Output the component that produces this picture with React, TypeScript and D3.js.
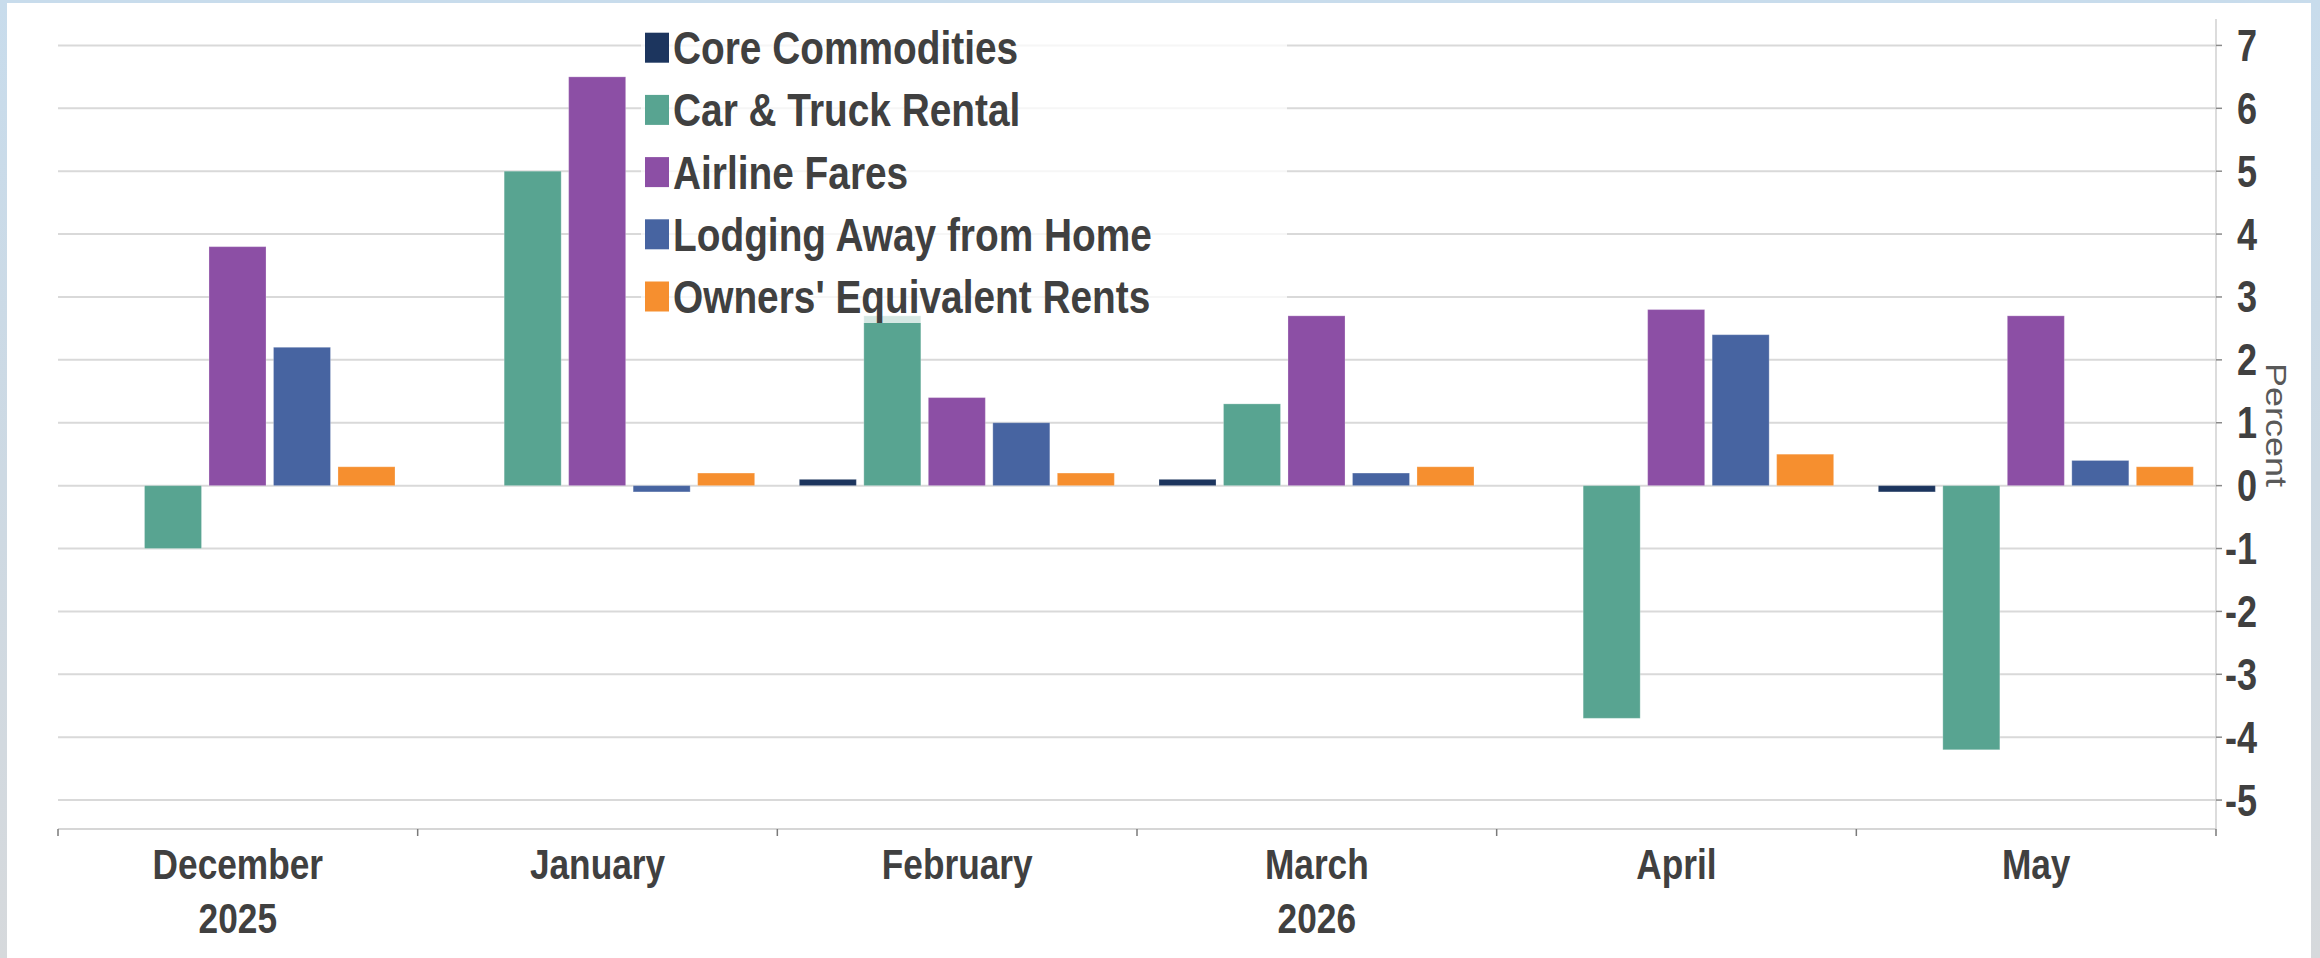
import React from "react";
import * as d3 from "d3";

const catLine1 = ["December", "January", "February", "March", "April", "May"];
const catLine2 = ["2025", "", "", "2026", "", ""];

const seriesNames = [
  "Core Commodities",
  "Car & Truck Rental",
  "Airline Fares",
  "Lodging Away from Home",
  "Owners' Equivalent Rents",
];
const seriesColors = ["#1c355e", "#58a491", "#8c4fa5", "#4764a1", "#f68f2f"];

const coreCommodities = [0, 0, 0.1, 0.1, 0, -0.1];
const carTruckRental = [-1.0, 5.0, 2.7, 1.3, -3.7, -4.2];
const airlineFares = [3.8, 6.5, 1.4, 2.7, 2.8, 2.7];
const lodgingAway = [2.2, -0.1, 1.0, 0.2, 2.4, 0.4];
const ownersEquivRents = [0.3, 0.2, 0.2, 0.3, 0.5, 0.3];

const yTicks = [-5, -4, -3, -2, -1, 0, 1, 2, 3, 4, 5, 6, 7];

const W = 2320;
const H = 958;
const FONT = "'Liberation Sans', Arial, Helvetica, sans-serif";
const SX = 0.82;
const SX_LEG = 0.835;
const TXT = "#404040";

export default function App() {
  const seriesValues = [coreCommodities, carTruckRental, airlineFares, lodgingAway, ownersEquivRents];
  const cats = catLine1.map((c, i) => c + "|" + i);

  const plotLeft = 58;
  const plotRight = 2216;
  const y = d3.scaleLinear().domain([-5.46, 7.42]).range([829, 19]);
  const x0 = d3.scaleBand<string>().domain(cats).range([plotLeft, plotRight]).paddingInner(0).paddingOuter(0);
  const x1 = d3
    .scaleBand<string>()
    .domain(seriesNames)
    .range([22, 337])
    .paddingInner(0.116)
    .paddingOuter(0);

  const legendX = 645;
  const legendY0 = 47.7;
  const legendStep = 62.2;

  return (
    <svg
      width={W}
      height={H}
      style={{ position: "absolute", left: 0, top: 0, display: "block" }}
      fontFamily={FONT}
    >
      <defs>
        <linearGradient id="bgGrad" x1="0" y1="0" x2="0" y2="1">
          <stop offset="0" stopColor="#c8dcec" />
          <stop offset="0.5" stopColor="#cdd9e3" />
          <stop offset="1" stopColor="#d6d9dc" />
        </linearGradient>
      </defs>
      <rect x={0} y={0} width={W} height={H} fill="url(#bgGrad)" />
      <rect x={7} y={3} width={2311 - 7} height={H - 3} fill="#ffffff" />

      {/* gridlines */}
      {yTicks.map((t) => (
        <line
          key={"g" + t}
          x1={plotLeft}
          x2={plotRight}
          y1={y(t)}
          y2={y(t)}
          stroke="#d9d9d9"
          strokeWidth={2}
        />
      ))}

      {/* bars */}
      {cats.map((c, ci) =>
        seriesNames.map((s, si) => {
          const v = seriesValues[si][ci];
          if (v === 0) return null;
          const top = y(Math.max(0, v));
          const bot = y(Math.min(0, v));
          return (
            <rect
              key={c + s}
              x={(x0(c) as number) + (x1(s) as number)}
              y={top}
              width={x1.bandwidth()}
              height={bot - top}
              fill={seriesColors[si]}
              stroke="#ffffff"
              strokeOpacity={0.25}
              strokeWidth={1}
            />
          );
        })
      )}

      {/* right axis */}
      <line x1={plotRight} x2={plotRight} y1={19} y2={829} stroke="#d0d0d0" strokeWidth={1.5} />
      {yTicks.map((t) => (
        <g key={"t" + t}>
          <line x1={plotRight} x2={plotRight + 6} y1={y(t)} y2={y(t)} stroke="#8a8a8a" strokeWidth={1.5} />
          <g transform={`translate(${2257},${y(t) + 15.5}) scale(${SX},1)`}>
            <text x={0} y={0} textAnchor="end" fontSize={44} fontWeight="bold" fill={TXT}>
              {String(t)}
            </text>
          </g>
        </g>
      ))}

      {/* Percent label */}
      <g transform={`translate(2276,425) scale(${SX},1) rotate(90)`}>
        <text x={0} y={0} textAnchor="middle" dominantBaseline="central" fontSize={36} fill="#595959">
          Percent
        </text>
      </g>

      {/* category axis */}
      <line x1={plotLeft} x2={plotRight} y1={829} y2={829} stroke="#c8c8c8" strokeWidth={1.5} />
      {cats.map((c, i) => (
        <line
          key={"ct" + i}
          x1={x0(c) as number}
          x2={x0(c) as number}
          y1={829}
          y2={836}
          stroke="#7a7a7a"
          strokeWidth={1.5}
        />
      ))}
      <line x1={plotRight} x2={plotRight} y1={829} y2={836} stroke="#7a7a7a" strokeWidth={1.5} />
      {cats.map((c, i) => {
        const cx = (x0(c) as number) + x0.bandwidth() / 2;
        return (
          <g key={"cl" + i} transform={`translate(${cx},0) scale(${SX},1)`}>
            <text x={0} y={879} textAnchor="middle" fontSize={43} fontWeight="bold" fill={TXT}>
              {catLine1[i]}
            </text>
            {catLine2[i] ? (
              <text x={0} y={933} textAnchor="middle" fontSize={43} fontWeight="bold" fill={TXT}>
                {catLine2[i]}
              </text>
            ) : null}
          </g>
        );
      })}

      {/* legend */}
      <rect x={641} y={10} width={1287 - 641} height={323 - 10} fill="#ffffff" fillOpacity={0.75} />
      {seriesNames.map((s, i) => {
        const cy = legendY0 + i * legendStep;
        return (
          <g key={"lg" + i}>
            <rect x={legendX} y={cy - 15} width={24} height={30} fill={seriesColors[i]} />
            <g transform={`translate(${legendX + 28},${cy + 16.5}) scale(${SX_LEG},1)`}>
              <text x={0} y={0} fontSize={46.5} fontWeight="bold" fill={TXT}>
                {s}
              </text>
            </g>
          </g>
        );
      })}
    </svg>
  );
}
